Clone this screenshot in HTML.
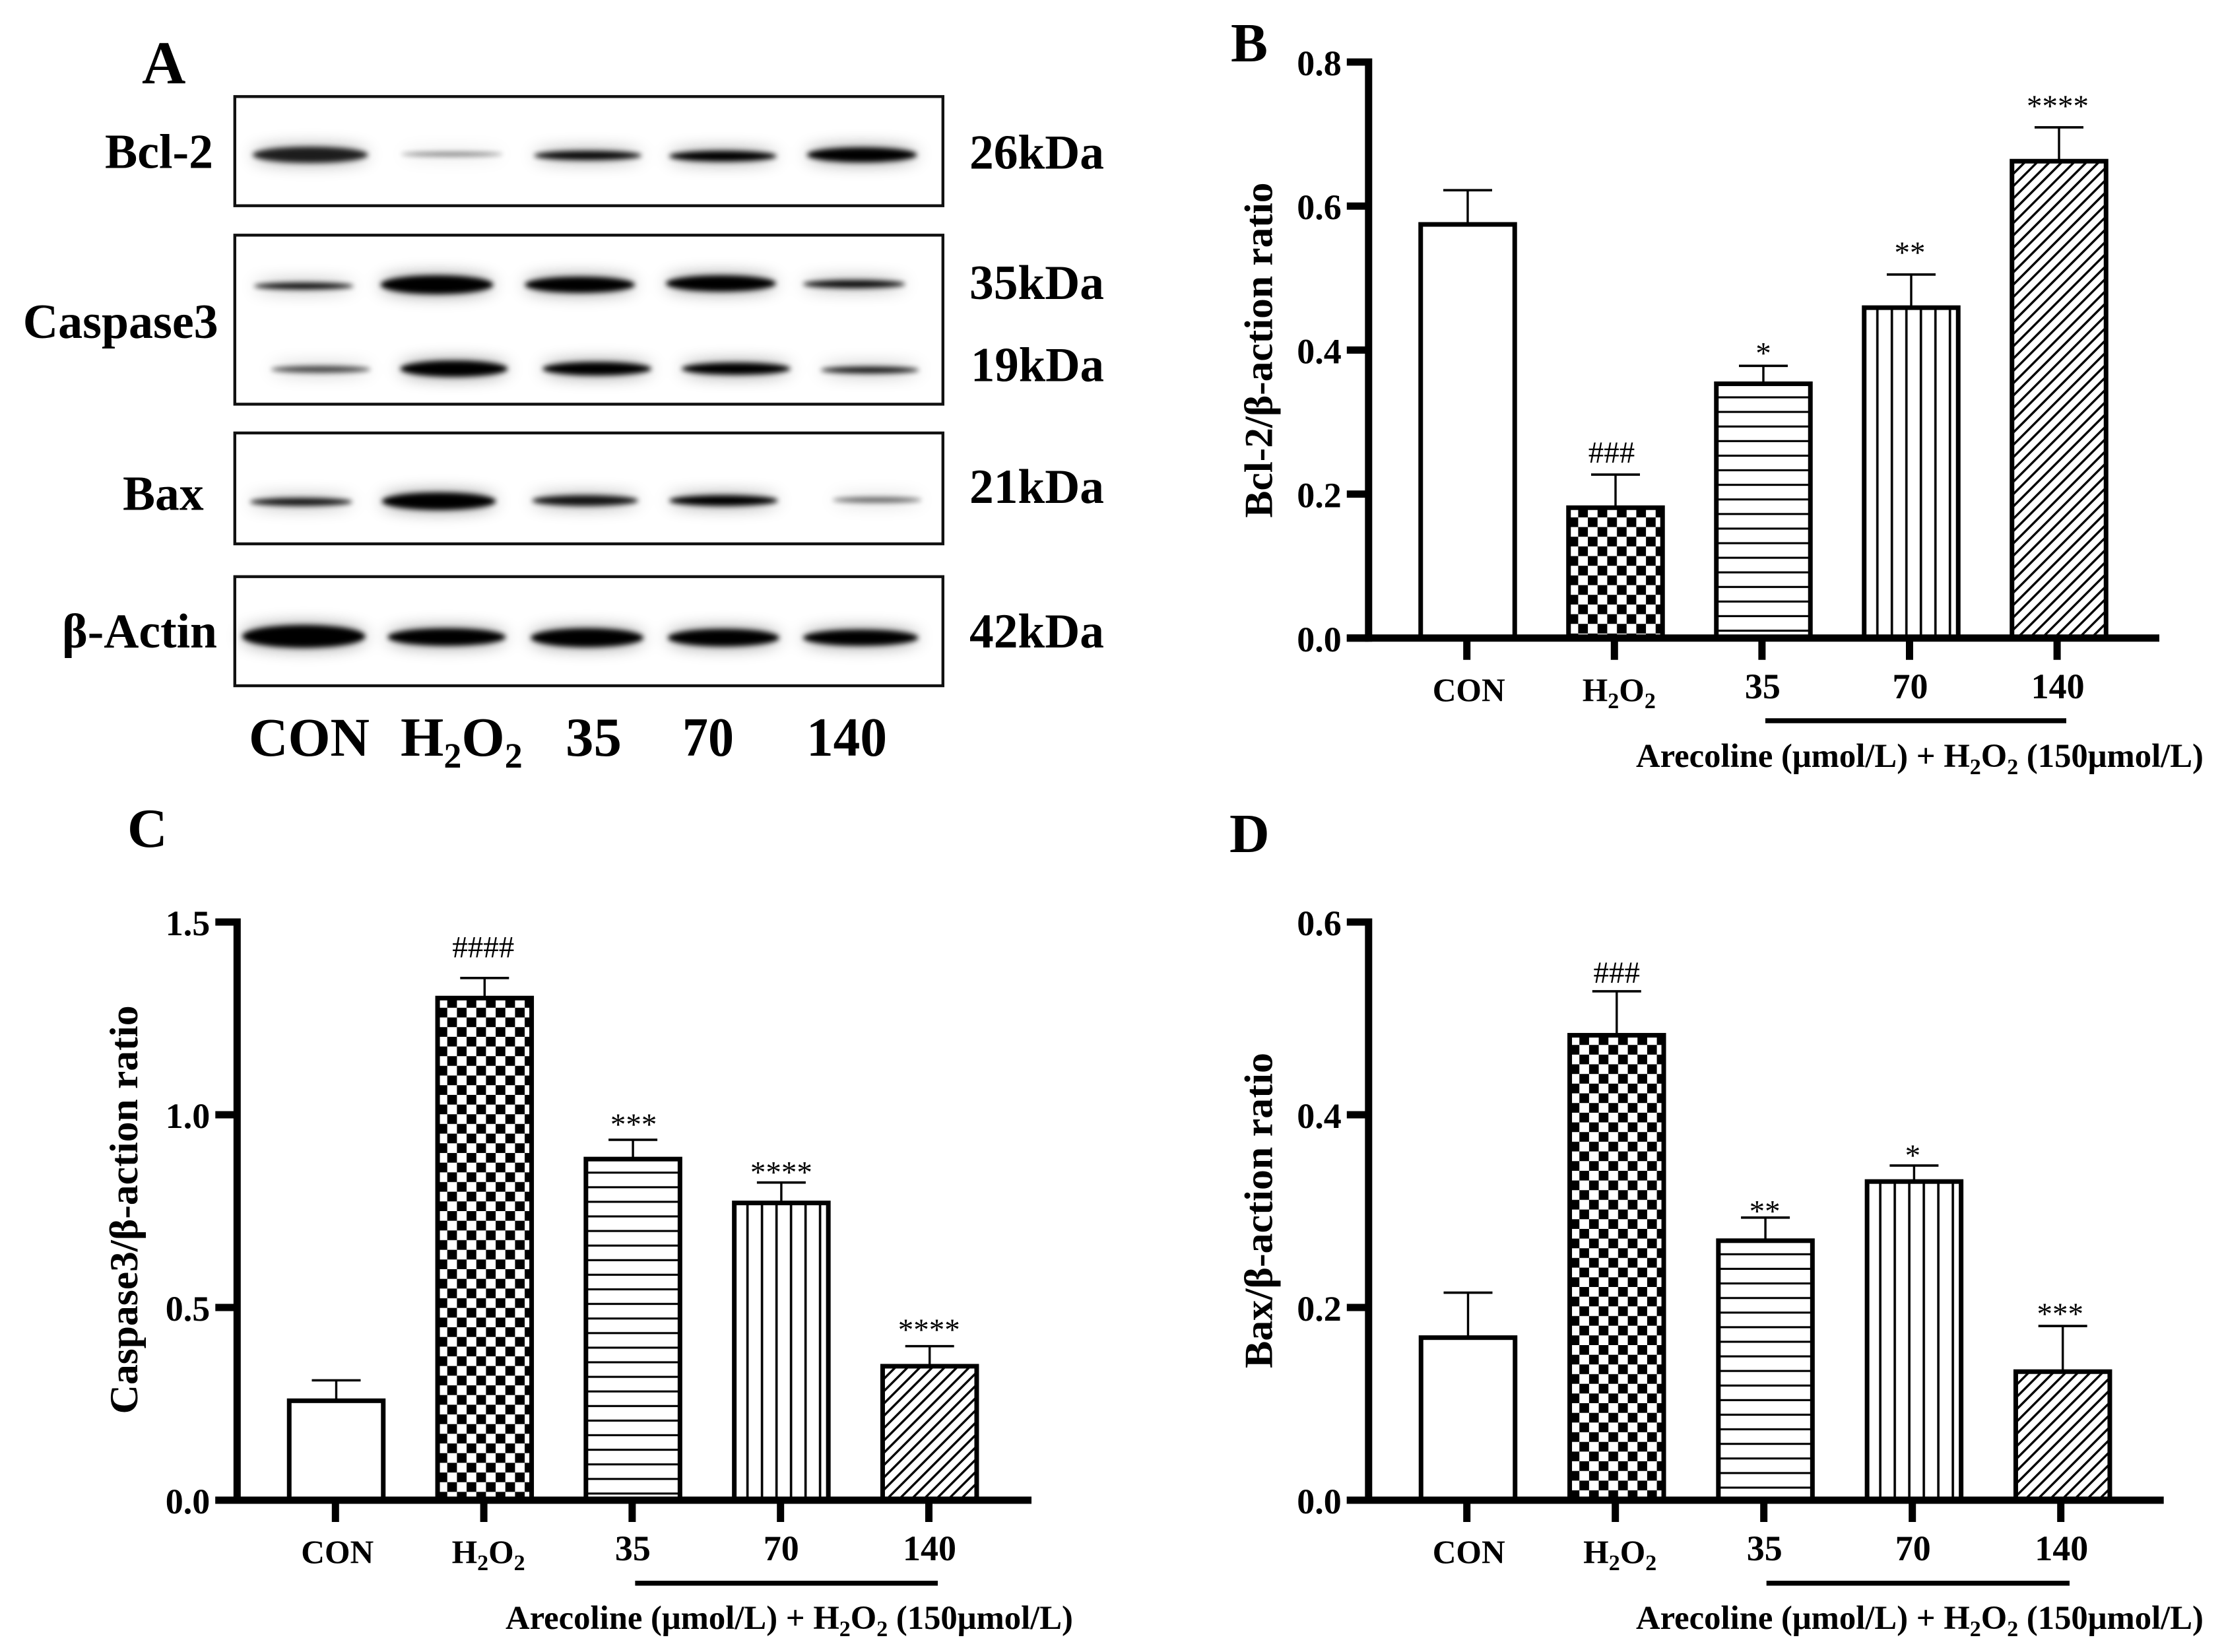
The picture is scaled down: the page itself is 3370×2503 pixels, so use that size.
<!DOCTYPE html>
<html lang="en">
<head>
<meta charset="utf-8">
<title>Western blot and densitometry of Bcl-2, Caspase3 and Bax</title>
<style>
html,body{margin:0;padding:0;background:#fff;}
svg{display:block;}
text{font-family:"Liberation Serif",serif;fill:#000;}
.b{font-weight:bold;}
</style>
</head>
<body>
<svg id="fig" xmlns="http://www.w3.org/2000/svg" width="3370" height="2503" viewBox="0 0 3370 2503">
<defs>
<filter id="blot" filterUnits="userSpaceOnUse" x="340" y="130" width="1110" height="930">
<feGaussianBlur in="SourceGraphic" stdDeviation="4" result="core"/>
<feGaussianBlur in="SourceGraphic" stdDeviation="13" result="wide"/>
<feComponentTransfer in="wide" result="halo"><feFuncA type="linear" slope="0.5"/></feComponentTransfer>
<feMerge><feMergeNode in="halo"/><feMergeNode in="core"/></feMerge>
</filter>
</defs>
<rect width="3370" height="2503" fill="#fff"/>

<g id="panel-a">
<text class="b" x="215" y="126" font-size="92">A</text>

<g transform="translate(3 1) scale(0.994)">
<g filter="url(#blot)">
<ellipse cx="470" cy="235" rx="88" ry="12" fill-opacity=".85"/>
<ellipse cx="686" cy="234" rx="78" ry="3" fill-opacity=".5"/>
<ellipse cx="893" cy="236" rx="82" ry="7" fill-opacity=".95"/>
<ellipse cx="1099" cy="237" rx="82" ry="8"/>
<ellipse cx="1311" cy="235" rx="84" ry="11"/>
</g>
<g filter="url(#blot)">
<ellipse cx="460" cy="435" rx="76" ry="5" fill-opacity=".95"/>
<ellipse cx="663" cy="433" rx="86" ry="14"/>
<ellipse cx="881" cy="433" rx="84" ry="12"/>
<ellipse cx="1096" cy="431" rx="84" ry="12"/>
<ellipse cx="1299" cy="432" rx="78" ry="6" fill-opacity=".95"/>
</g>
<g filter="url(#blot)">
<ellipse cx="486" cy="562" rx="76" ry="5" fill-opacity=".7"/>
<ellipse cx="689" cy="561" rx="82" ry="12"/>
<ellipse cx="907" cy="561" rx="83" ry="10"/>
<ellipse cx="1119" cy="561" rx="83" ry="9"/>
<ellipse cx="1323" cy="563" rx="75" ry="5" fill-opacity=".9"/>
</g>
<g filter="url(#blot)">
<ellipse cx="456" cy="764" rx="78" ry="6" fill-opacity=".9"/>
<ellipse cx="666" cy="763" rx="87" ry="13"/>
<ellipse cx="889" cy="762" rx="81" ry="8" fill-opacity=".9"/>
<ellipse cx="1100" cy="762" rx="83" ry="8"/>
<ellipse cx="1334" cy="761" rx="68" ry="4" fill-opacity=".6"/>
</g>
<g filter="url(#blot)">
<ellipse cx="460" cy="969" rx="94" ry="17"/>
<ellipse cx="678" cy="970" rx="90" ry="13"/>
<ellipse cx="892" cy="971" rx="86" ry="14"/>
<ellipse cx="1100" cy="971" rx="85" ry="13"/>
<ellipse cx="1309" cy="971" rx="88" ry="12"/>
</g>
</g>

<rect x="355.8" y="146.3" width="1073" height="165.4" fill="none" stroke="#111" stroke-width="4.4"/>
<rect x="355.8" y="356.3" width="1073" height="256.1" fill="none" stroke="#111" stroke-width="4.4"/>
<rect x="355.8" y="656" width="1073" height="168" fill="none" stroke="#111" stroke-width="4.4"/>
<rect x="355.8" y="873.7" width="1073" height="165.3" fill="none" stroke="#111" stroke-width="4.4"/>

<text class="b" x="159" y="254.5" font-size="74" textLength="164" lengthAdjust="spacingAndGlyphs">Bcl-2</text>
<text class="b" x="34.7" y="512" font-size="74" textLength="296" lengthAdjust="spacingAndGlyphs">Caspase3</text>
<text class="b" x="186" y="772.5" font-size="74" textLength="122.6" lengthAdjust="spacingAndGlyphs">Bax</text>
<text class="b" x="94" y="981" font-size="74" textLength="235" lengthAdjust="spacingAndGlyphs">β-Actin</text>

<text class="b" x="1469" y="255.5" font-size="74" textLength="204" lengthAdjust="spacingAndGlyphs">26kDa</text>
<text class="b" x="1469" y="453" font-size="74" textLength="204" lengthAdjust="spacingAndGlyphs">35kDa</text>
<text class="b" x="1471" y="577.5" font-size="74" textLength="202" lengthAdjust="spacingAndGlyphs">19kDa</text>
<text class="b" x="1469" y="762" font-size="74" textLength="204" lengthAdjust="spacingAndGlyphs">21kDa</text>
<text class="b" x="1469" y="981" font-size="74" textLength="204" lengthAdjust="spacingAndGlyphs">42kDa</text>

<text class="b" x="377" y="1145" font-size="83" textLength="183" lengthAdjust="spacingAndGlyphs">CON</text>
<text class="b" x="607" y="1145" font-size="84">H<tspan font-size="54" dy="18">2</tspan><tspan dy="-18">O</tspan><tspan font-size="54" dy="18">2</tspan></text>
<text class="b" x="857" y="1145" font-size="84" textLength="85" lengthAdjust="spacingAndGlyphs">35</text>
<text class="b" x="1034" y="1145" font-size="84" textLength="78" lengthAdjust="spacingAndGlyphs">70</text>
<text class="b" x="1222" y="1145" font-size="84" textLength="122" lengthAdjust="spacingAndGlyphs">140</text>
</g>

<g id="charts"></g>
</svg>

<script>
// Shared categories
const categories = ['CON', 'H2O2', '35', '70', '140'];
const doseCaption = 'Arecoline (μmol/L) + H2O2 (150μmol/L)';

// Panel B
const bValues = [0.5745, 0.1811, 0.3532, 0.4589, 0.6623];
const bErrors = [0.0475, 0.046, 0.0249, 0.046, 0.047];
const bTicks = [0, 0.2, 0.4, 0.6, 0.8];
const bSignificance = ['', '###', '*', '**', '****'];

// Panel C
const cValues = [0.258, 1.3027, 0.885, 0.7712, 0.3476];
const cErrors = [0.053, 0.052, 0.05, 0.053, 0.052];
const cTicks = [0, 0.5, 1.0, 1.5];
const cSignificance = ['', '####', '***', '****', '****'];

// Panel D
const dValues = [0.1687, 0.4825, 0.2693, 0.3307, 0.1334];
const dErrors = [0.0467, 0.0456, 0.024, 0.0166, 0.0474];
const dTicks = [0, 0.2, 0.4, 0.6];
const dSignificance = ['', '###', '**', '*', '***'];

const NS = 'http://www.w3.org/2000/svg';
const chartsRoot = document.getElementById('charts');
const defsRoot = document.querySelector('#fig defs');

function svgEl(parent, tag, attrs) {
  const el = document.createElementNS(NS, tag);
  for (const k in attrs) el.setAttribute(k, attrs[k]);
  parent.appendChild(el);
  return el;
}

// Writes text, turning "H2O2" into a formula with subscripts
function writeFormula(el, str, subSize, subDrop) {
  const parts = str.split(/(H2O2)/);
  parts.forEach(function (part) {
    if (part === 'H2O2') {
      [['H', false], ['2', true], ['O', false], ['2', true]].forEach(function (g) {
        const t = svgEl(el, 'tspan', g[1] ? { 'font-size': subSize, dy: subDrop } : {});
        t.textContent = g[0];
        if (g[1]) {
          const reset = svgEl(el, 'tspan', { dy: -subDrop });
          reset.textContent = '\u200b';
        }
      });
    } else if (part) {
      const t = svgEl(el, 'tspan', {});
      t.textContent = part;
    }
  });
}

function fillPattern(key, kind, ox, oy) {
  const id = key + '-' + kind;
  if (kind === 'checker') {
    const c = 14.67;
    const p = svgEl(defsRoot, 'pattern', { id: id, patternUnits: 'userSpaceOnUse', x: ox, y: oy, width: c * 2, height: c * 2 });
    svgEl(p, 'rect', { width: c * 2, height: c * 2, fill: '#fff' });
    svgEl(p, 'rect', { x: c, y: 0, width: c, height: c, fill: '#000' });
    svgEl(p, 'rect', { x: 0, y: c, width: c, height: c, fill: '#000' });
  } else if (kind === 'hlines') {
    const p = svgEl(defsRoot, 'pattern', { id: id, patternUnits: 'userSpaceOnUse', x: ox, y: oy, width: 30, height: 22.1 });
    svgEl(p, 'rect', { width: 30, height: 22.1, fill: '#fff' });
    svgEl(p, 'rect', { y: 19, width: 30, height: 3.4, fill: '#000' });
  } else if (kind === 'vlines') {
    const p = svgEl(defsRoot, 'pattern', { id: id, patternUnits: 'userSpaceOnUse', x: ox, y: oy, width: 22, height: 30 });
    svgEl(p, 'rect', { width: 22, height: 30, fill: '#fff' });
    svgEl(p, 'rect', { x: 18.2, width: 3.6, height: 30, fill: '#000' });
  } else if (kind === 'diagonal') {
    const s = 13.2;
    const p = svgEl(defsRoot, 'pattern', { id: id, patternUnits: 'userSpaceOnUse', x: ox, y: oy, width: s, height: s, patternTransform: 'rotate(45 ' + ox + ' ' + oy + ')' });
    svgEl(p, 'rect', { width: s, height: s, fill: '#fff' });
    svgEl(p, 'rect', { x: 0, width: 3.4, height: s, fill: '#000' });
  }
  return 'url(#' + id + ')';
}

const fillKinds = ['plain', 'checker', 'hlines', 'vlines', 'diagonal'];

function drawPanel(key, cfg, values, errors, ticks, sig) {
  const panel = svgEl(chartsRoot, 'g', {});
  
  

  const yScale = function (v) { return cfg.base - (v / cfg.max) * (cfg.base - cfg.top); };
  const barX = function (i) { return cfg.bar0 + i * cfg.barStep; };
  const tickX = function (i) { return cfg.tick0 + i * cfg.tickStep; };

  // panel letter
  const letter = svgEl(panel, 'text', { class: 'b', x: cfg.letterX, y: cfg.letterY, 'font-size': 84 });
  letter.textContent = key.toUpperCase();
  
  

  // bars
  const sw = 7, bw = 149.5;
  values.forEach(function (v, i) {
    const cx = barX(i);
    const left = cx - bw / 2 + sw / 2;
    const w = bw - sw;
    const yTop = yScale(v);
    const kind = fillKinds[i];
    const fill = kind === 'plain' ? '#fff' : fillPattern(key + i, kind, left, yTop);
    const bar = svgEl(panel, 'rect', { x: left, y: yTop, width: w, height: cfg.base - yTop, fill: fill, stroke: '#000', 'stroke-width': sw });
    
    

    const yErr = yScale(v + errors[i]);
    const stem = svgEl(panel, 'line', { x1: cx, x2: cx, y1: yTop, y2: yErr, stroke: '#000', 'stroke-width': 3.4 });
    
    
    const cap = svgEl(panel, 'line', { x1: cx - 37, x2: cx + 37, y1: yErr, y2: yErr, stroke: '#000', 'stroke-width': 3.6 });
    
    

    if (sig[i]) {
      const mark = svgEl(panel, 'text', { x: cx + cfg.sigDx[i], y: yErr - cfg.sigGap[i], 'font-size': 47, 'text-anchor': 'middle' });
      mark.textContent = sig[i];
      
      
    }
  });

  // axes
  const yAxis = svgEl(panel, 'line', { x1: cfg.axisX, x2: cfg.axisX, y1: yScale(cfg.max) - 5.5, y2: cfg.base + 5.5, stroke: '#000', 'stroke-width': 11 });
  
  
  const xAxis = svgEl(panel, 'line', { x1: cfg.axisX - 33, x2: cfg.axisEnd, y1: cfg.base, y2: cfg.base, stroke: '#000', 'stroke-width': 11 });
  
  

  // y ticks
  ticks.forEach(function (t) {
    const y = yScale(t);
    const tick = svgEl(panel, 'line', { x1: cfg.axisX - 33, x2: cfg.axisX, y1: y, y2: y, stroke: '#000', 'stroke-width': 11 });
    
    
    const label = svgEl(panel, 'text', { class: 'b', x: cfg.axisX - 41, y: y + 20, 'font-size': 54, 'text-anchor': 'end' });
    label.textContent = t.toFixed(1);
    
    
  });

  // x ticks and labels
  categories.forEach(function (name, i) {
    const x = tickX(i);
    const tick = svgEl(panel, 'line', { x1: x, x2: x, y1: cfg.base, y2: cfg.base + 33, stroke: '#000', 'stroke-width': 11 });
    
    
    const isDose = i >= 2;
    const label = svgEl(panel, 'text', {
      class: 'b',
      x: x + (i === 1 ? 7 : (i === 0 ? 3 : 1)),
      y: cfg.base + (isDose ? 91 : 95),
      'font-size': isDose ? 54 : 49.5,
      'text-anchor': 'middle'
    });
    writeFormula(label, name, 34, 11);
    
    
  });

  // bracket line and caption
  const bracket = svgEl(panel, 'line', { x1: cfg.lineX1, x2: cfg.lineX2, y1: cfg.lineY, y2: cfg.lineY, stroke: '#000', 'stroke-width': 7.5 });
  
  
  const caption = svgEl(panel, 'text', { class: 'b', x: cfg.capX, y: cfg.capY, 'font-size': 50.7 });
  writeFormula(caption, doseCaption, 34, 11);
  
  

  // y title
  const title = svgEl(panel, 'text', {
    class: 'b',
    'font-size': 60,
    'text-anchor': 'middle',
    textLength: cfg.titleLen,
    lengthAdjust: 'spacingAndGlyphs',
    transform: 'translate(' + cfg.titleX + ' ' + cfg.titleY + ') rotate(-90)'
  });
  title.textContent = cfg.title;
  
  
}

drawPanel('b', {
  max: 0.8, top: 94, base: 966.8, axisX: 2073.8, axisEnd: 3272,
  bar0: 2224, barStep: 224, tick0: 2222.7, tickStep: 223.6,
  letterX: 1865, letterY: 93,
  lineX1: 2675, lineX2: 3131, lineY: 1092, capX: 2479, capY: 1162,
  title: 'Bcl-2/β-action ratio', titleX: 1927.5, titleY: 530.5, titleLen: 508,
  sigGap: [0, 18, 4, 18, 17], sigDx: [0, -6, 0, -2, -2]
}, bValues, bErrors, bTicks, bSignificance);

drawPanel('c', {
  max: 1.5, top: 1397, base: 2273, axisX: 359.3, axisEnd: 1563,
  bar0: 509.5, barStep: 224.8, tick0: 508.3, tickStep: 224.8,
  letterX: 193, letterY: 1283,
  lineX1: 962.4, lineX2: 1421, lineY: 2398.7, capX: 766, capY: 2468,
  title: 'Caspase3/β-action ratio', titleX: 208, titleY: 1833, titleLen: 619,
  sigGap: [0, 31.5, 8, 0.3, 9.4], sigDx: [0, -2, 1, 0, -1]
}, cValues, cErrors, cTicks, cSignificance);

drawPanel('d', {
  max: 0.6, top: 1397, base: 2273, axisX: 2073.8, axisEnd: 3278.7,
  bar0: 2224.5, barStep: 225.3, tick0: 2222.7, tickStep: 225,
  letterX: 1863, letterY: 1291,
  lineX1: 2676.7, lineX2: 3136, lineY: 2398.7, capX: 2479, capY: 2468,
  title: 'Bax/β-action ratio', titleX: 1927.5, titleY: 1834, titleLen: 478,
  sigGap: [0, 13, -5.6, 0, 3], sigDx: [0, 0, -1, -2, -4]
}, dValues, dErrors, dTicks, dSignificance);
</script>
</body>
</html>
